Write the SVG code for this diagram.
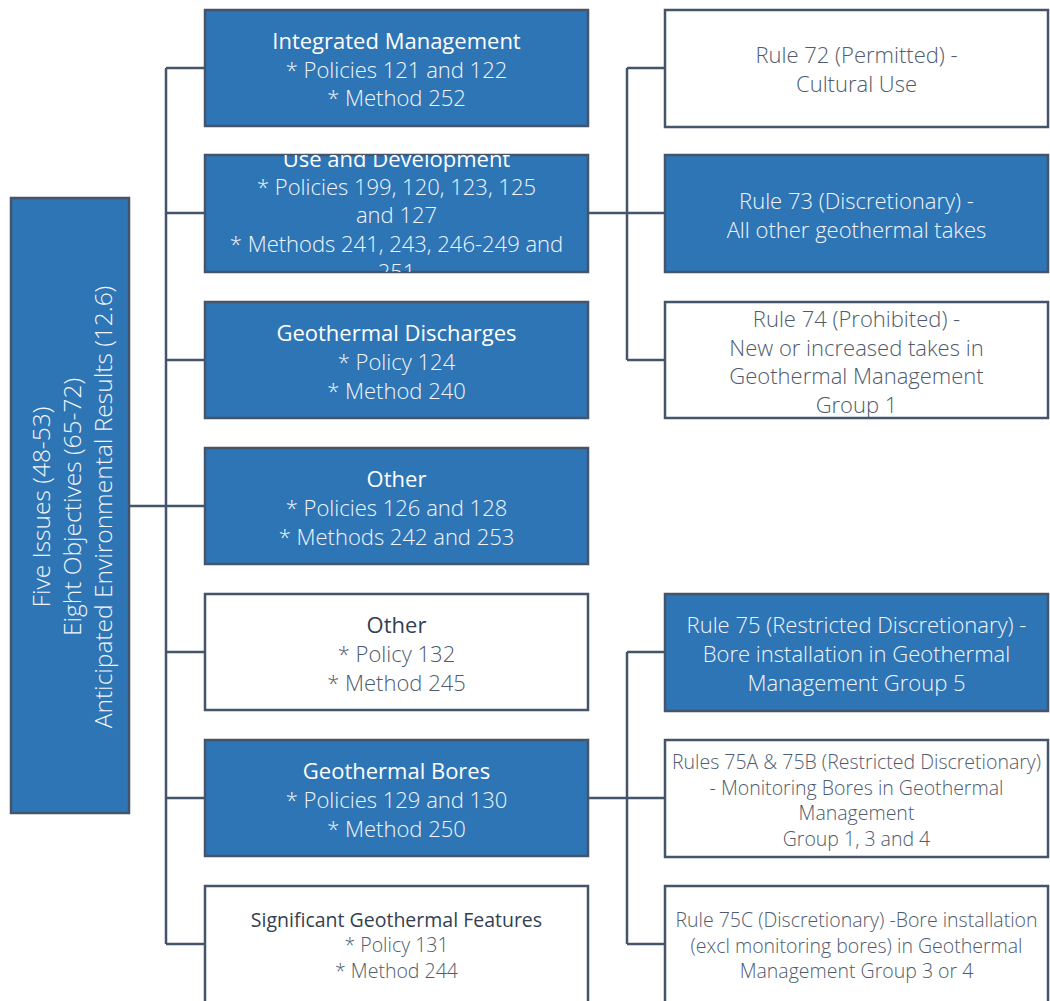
<svg xmlns="http://www.w3.org/2000/svg" width="1050" height="1001" viewBox="0 0 1050 1001">
<style>
.bb{fill:#2E75B6;stroke:#44546A;stroke-width:2.5}
.wb{fill:#FFFFFF;stroke:#44546A;stroke-width:2.5}
.cn{fill:none;stroke:#44546A;stroke-width:2.5}
text{font-family:"Open Sans","Noto Sans","Liberation Sans",sans-serif;text-anchor:middle;dominant-baseline:central;font-size:22px}
.wt{fill:#FFFFFF;font-weight:400}
.wl{fill:#F2F5FA;font-weight:300}
.gt{fill:#333F50;font-weight:400}
.gl{fill:#4F5B6C;font-weight:300}
.s{font-size:19.5px}
.r{font-size:24.5px}
</style>
<defs>
<clipPath id="c2"><rect x="205" y="155" width="383" height="117"/></clipPath>
</defs>
<g id="connectors">
<path class="cn" d="M129 506H166M166 68V944M166 68H205M166 213H205M166 360H205M166 506H205M166 652H205M166 798H205M166 944H205"/>
<path class="cn" d="M588 213H627M627 68V360M627 68H665M627 213H665M627 360H665"/>
<path class="cn" d="M588 798H627M627 652V944M627 652H665M627 798H665M627 944H665"/>
</g>
<g id="root">
<rect class="bb" x="11" y="198" width="118" height="615"/>
<g transform="translate(71 507) rotate(-90)">
<text class="wl r" x="0" y="-31">Five Issues (48-53)</text>
<text class="wl r" x="0" y="0">Eight Objectives (65-72)</text>
<text class="wl r" x="0" y="31">Anticipated Environmental Results (12.6)</text>
</g>
</g>
<g id="integrated-management">
<rect class="bb" x="205" y="10" width="383" height="116"/>
<text class="wt" x="396.5" y="40">Integrated Management</text>
<text class="wl" x="396.5" y="69">* Policies 121 and 122</text>
<text class="wl" x="396.5" y="97">* Method 252</text>
</g>
<g id="use-and-development">
<rect class="bb" x="205" y="155" width="383" height="117"/>
<g clip-path="url(#c2)">
<text class="wt" x="396.5" y="158">Use and Development</text>
<text class="wl" x="396.5" y="186">* Policies 199, 120, 123, 125</text>
<text class="wl" x="396.5" y="214">and 127</text>
<text class="wl" x="396.5" y="243">* Methods 241, 243, 246-249 and</text>
<text class="wl" x="396.5" y="271">251</text>
</g>
</g>
<g id="geothermal-discharges">
<rect class="bb" x="205" y="302" width="383" height="116"/>
<text class="wt" x="396.5" y="332">Geothermal Discharges</text>
<text class="wl" x="396.5" y="361">* Policy 124</text>
<text class="wl" x="396.5" y="390">* Method 240</text>
</g>
<g id="other-1">
<rect class="bb" x="205" y="448" width="383" height="116"/>
<text class="wt" x="396.5" y="478">Other</text>
<text class="wl" x="396.5" y="507">* Policies 126 and 128</text>
<text class="wl" x="396.5" y="536">* Methods 242 and 253</text>
</g>
<g id="other-2">
<rect class="wb" x="205" y="594" width="383" height="116"/>
<text class="gt" x="396.5" y="624">Other</text>
<text class="gl" x="396.5" y="653">* Policy 132</text>
<text class="gl" x="396.5" y="682">* Method 245</text>
</g>
<g id="geothermal-bores">
<rect class="bb" x="205" y="740" width="383" height="116"/>
<text class="wt" x="396.5" y="770">Geothermal Bores</text>
<text class="wl" x="396.5" y="799">* Policies 129 and 130</text>
<text class="wl" x="396.5" y="828">* Method 250</text>
</g>
<g id="significant-features">
<rect class="wb" x="205" y="886" width="383" height="118"/>
<text class="gt s" x="396.5" y="919">Significant Geothermal Features</text>
<text class="gl s" x="396.5" y="944">* Policy 131</text>
<text class="gl s" x="396.5" y="970">* Method 244</text>
</g>
<g id="rule-72">
<rect class="wb" x="665" y="10" width="383" height="117"/>
<text class="gl" x="856.5" y="54">Rule 72 (Permitted) -</text>
<text class="gl" x="856.5" y="83">Cultural Use</text>
</g>
<g id="rule-73">
<rect class="bb" x="665" y="155" width="383" height="117"/>
<text class="wl" x="856.5" y="200">Rule 73 (Discretionary) -</text>
<text class="wl" x="856.5" y="229">All other geothermal takes</text>
</g>
<g id="rule-74">
<rect class="wb" x="665" y="302" width="383" height="116"/>
<text class="gl" x="856.5" y="318">Rule 74 (Prohibited) -</text>
<text class="gl" x="856.5" y="347">New or increased takes in</text>
<text class="gl" x="856.5" y="375">Geothermal Management</text>
<text class="gl" x="856.5" y="404">Group 1</text>
</g>
<g id="rule-75">
<rect class="bb" x="665" y="594" width="383" height="117"/>
<text class="wl" x="856.5" y="624">Rule 75 (Restricted Discretionary) -</text>
<text class="wl" x="856.5" y="653">Bore installation in Geothermal</text>
<text class="wl" x="856.5" y="682">Management Group 5</text>
</g>
<g id="rule-75ab">
<rect class="wb" x="665" y="740" width="383" height="117"/>
<text class="gl s" x="856.5" y="761">Rules 75A &amp; 75B (Restricted Discretionary)</text>
<text class="gl s" x="856.5" y="787">- Monitoring Bores in Geothermal</text>
<text class="gl s" x="856.5" y="812">Management</text>
<text class="gl s" x="856.5" y="838">Group 1, 3 and 4</text>
</g>
<g id="rule-75c">
<rect class="wb" x="665" y="886" width="383" height="118"/>
<text class="gl s" x="856.5" y="919">Rule 75C (Discretionary) -Bore installation</text>
<text class="gl s" x="856.5" y="945">(excl monitoring bores) in Geothermal</text>
<text class="gl s" x="856.5" y="970">Management Group 3 or 4</text>
</g>
</svg>
